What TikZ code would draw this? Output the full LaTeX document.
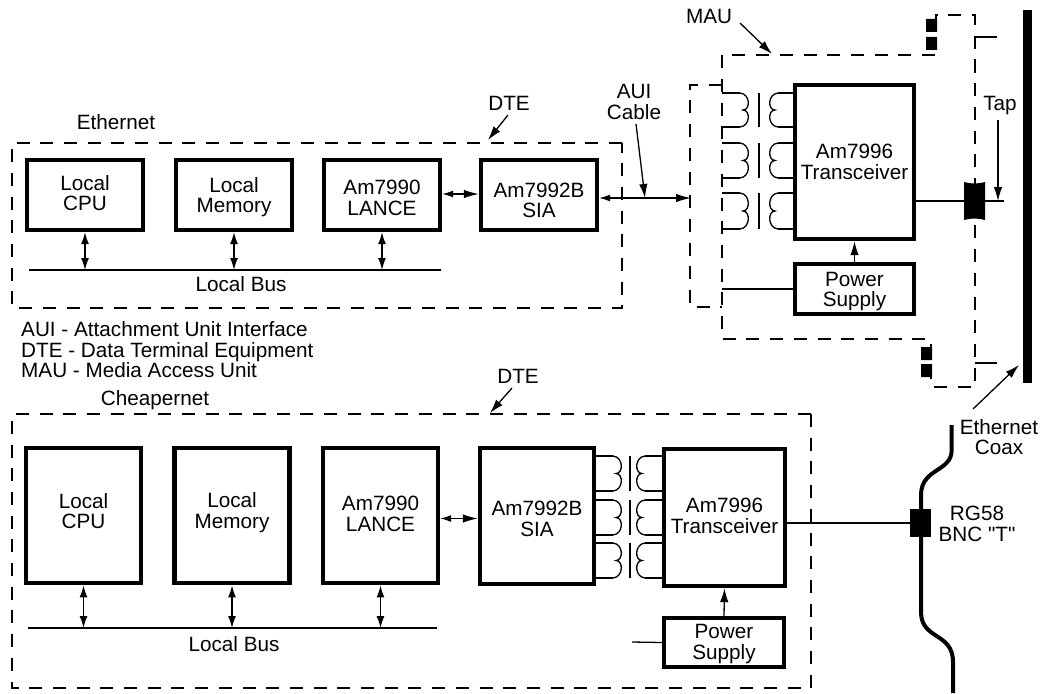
\documentclass[tikz,border=0pt]{standalone}
\usepackage{fontspec}
\setmainfont{Liberation Sans}[Ligatures=TeXOff]
\usetikzlibrary{arrows.meta}
\tikzset{
  chip/.style={draw, line width=4.4pt, align=center, inner sep=0pt},
  txt/.style={align=center, inner sep=0pt},
  wire/.style={line width=1.3pt},
  dashbox/.style={line width=1.3pt, dash pattern=on 13pt off 10.7pt},
  link/.style={line width=1.3pt, {Latex[length=12pt,width=8pt]}-{Latex[length=12pt,width=8pt]}},
  bigl/.style={line width=1.3pt, {Latex[length=11pt,width=7pt]}-{Latex[length=15pt,width=8.5pt]}},
  pointer/.style={line width=1.3pt, -{Latex[length=14pt,width=8.5pt]}},
  every node/.style={font=\fontsize{20.7}{20.6}\selectfont}
}
% struts that move the two text lines inside a box
\newcommand{\lift}[1]{\rule[-#1]{0pt}{#1}}
\newcommand{\drop}[1]{\rule{0pt}{#1}}
% #1 x, #2 top y, #3 side (1 right, -1 left), #4 bump height
\newcommand{\coil}[4]{
  \draw[wire] (#1,#2) .. controls (#1+10.5*#3,#2+1) and (#1+10.5*#3,#2+#4) .. (#1+3*#3,#2+#4)
    .. controls (#1+10.5*#3,#2+#4) and (#1+10.5*#3,#2+2*#4-1) .. (#1,#2+2*#4);
}
\begin{document}
\begin{tikzpicture}[x=1pt,y=-1pt]
  \useasboundingbox (0,0) rectangle (1043,693);
  % Ethernet station
  \draw[dashbox] (622,143) -- (12,143) -- (12,308) -- (622,308) -- cycle;
  \node[chip, minimum width=116pt, minimum height=70pt] (cpuA) at (85,195) {Local\\CPU\lift{4pt}};
  \node[chip, minimum width=116pt, minimum height=70pt] (memA) at (234,195) {\drop{19pt}Local\\Memory};
  \node[chip, minimum width=116pt, minimum height=70pt] (lanceA) at (382,195) {\drop{20pt}Am7990\\LANCE};
  \node[chip, minimum width=116pt, minimum height=70pt] (siaA) at (539,195) {\drop{25pt}Am7992B\\SIA};
  \coordinate (busAl) at (29,270);
  \coordinate (busAr) at (441,270);
  \draw[wire] (busAl) -- (busAr);
  \draw[link] (cpuA.south) -- (cpuA.south |- busAl);
  \draw[link] (memA.south) -- (memA.south |- busAl);
  \draw[link] (lanceA.south) -- (lanceA.south |- busAl);
  \draw[bigl] ([yshift=1pt]lanceA.east) -- ([yshift=1pt]siaA.west);
  \node[txt] (busAt) at (241,284) {Local Bus};
  \node[txt] (ethA) at (116,122) {Ethernet};
  \node[txt] (dteA) at (509,103) {DTE};
  \coordinate (dteAs) at (508,115);
  \coordinate (dteAp) at (488,140);
  \draw[pointer] (dteAs) -- (dteAp);
  \node[txt, align=left, anchor=north west] (legend) at (21,321.5) {AUI - Attachment Unit Interface\\DTE - Data Terminal Equipment\\MAU - Media Access Unit};
  % AUI
  \draw[dashbox] (722,85) -- (690,85) -- (690,307) -- (722,307);
  \coordinate (auiEnd) at (691,198);
  \draw[bigl] (siaA.east |- auiEnd) -- (auiEnd);
  \node[txt] (auiT) at (634,102) {AUI\\Cable};
  \coordinate (auiS) at (636,124);
  \coordinate (auiP) at (645,198);
  \draw[pointer] (auiS) -- (auiP);
  % MAU
  \draw[dashbox] (935,55) -- (722,55) -- (722,339) -- (931,339) -- (931,347);
  \draw[dashbox] (936,50) -- (936,15) -- (975,15) -- (975,387) -- (931,387) -- (931,377);
  \fill (926,19) rectangle (937,32) (926,37) rectangle (937,50);
  \fill (921,347) rectangle (932,360) (921,364) rectangle (932,377);
  \draw[wire] (975,37) -- (997,37);
  \draw[wire] (975,363) -- (997,363);
  \node[txt] (mauT) at (709,16) {MAU};
  \coordinate (mauS) at (740,23);
  \coordinate (mauP) at (772,54);
  \draw[pointer] (mauS) -- (mauP);
  \node[chip, minimum width=119pt, minimum height=154pt] (xcvrA) at (854.5,162) {Am7996\\Transceiver};
  \node[chip, minimum width=119pt, minimum height=50pt] (powerA) at (854.5,289) {\drop{19pt}Power\\Supply};
  \draw[pointer] (powerA.north) -- (xcvrA.south);
  \coordinate (powerAl) at (722,289);
  \draw[wire] (powerA.west) -- (powerAl);
  \foreach \t/\b in {93/127, 143/178, 193/229} {
    \pgfmathsetmacro\h{(\b-\t)/2}
    \draw[wire] (722,\t) -- (740,\t);
    \draw[wire] (722,\b) -- (740,\b);
    \coil{740}{\t}{1}{\h}
    \draw[wire] (759,\t) -- (759,\b);
    \draw[wire] (793,\t) -- (778,\t);
    \draw[wire] (793,\b) -- (778,\b);
    \coil{778}{\t}{-1}{\h}
  }
  % coax and tap
  \fill (964,182) .. controls (971,184) and (978,184) .. (985,182) -- (985,220)
    .. controls (978,218) and (971,218) .. (964,220) -- cycle;
  \coordinate (tapEnd) at (1004,201);
  \draw[wire] (xcvrA.east |- tapEnd) -- (tapEnd);
  \node[txt] (tapT) at (1000,106) {Tap};
  \coordinate (tapS) at (998,120);
  \draw[pointer] (tapS) -- (tapS |- tapEnd);
  \fill (1023,10) rectangle (1032,383);
  \node[txt] (coaxT) at (999,437) {Ethernet\\Coax};
  \coordinate (coaxS) at (973,409);
  \coordinate (coaxP) at (1019,365);
  \draw[pointer] (coaxS) -- (coaxP);
  % Cheapernet station
  \draw[dashbox] (811,414) -- (12,414) -- (12,688) -- (811,688) -- cycle;
  \node[chip, minimum width=115pt, minimum height=135.5pt] (cpuB) at (83.5,515.5) {Local\\CPU\lift{9pt}};
  \node[chip, minimum width=115pt, minimum height=135.5pt] (memB) at (232,515.5) {Local\\Memory\lift{9.5pt}};
  \node[chip, minimum width=115pt, minimum height=135.5pt] (lanceB) at (380.5,515.5) {Am7990\\LANCE\lift{3pt}};
  \node[chip, minimum width=114pt, minimum height=136pt] (siaB) at (537,516) {\drop{20pt}Am7992B\\SIA};
  \coordinate (busBl) at (28,628);
  \coordinate (busBr) at (437,628);
  \draw[wire] (busBl) -- (busBr);
  \draw[link] (cpuB.south) -- (cpuB.south |- busBl);
  \draw[link] (memB.south) -- (memB.south |- busBl);
  \draw[link] (lanceB.south) -- (lanceB.south |- busBl);
  \draw[bigl] ([yshift=-3pt]lanceB.east) -- ([yshift=-3pt]lanceB.east -| siaB.west);
  \node[txt] (busBt) at (234,644) {Local Bus};
  \node[txt] (ethB) at (155,400) {Cheapernet};
  \node[txt] (dteB) at (518,376) {DTE};
  \coordinate (dteBs) at (512,388);
  \coordinate (dteBp) at (490,413);
  \draw[pointer] (dteBs) -- (dteBp);
  \node[chip, minimum width=121pt, minimum height=137pt] (xcvrB) at (724.5,517.5) {Am7996\\Transceiver\lift{4pt}};
  \node[chip, minimum width=120pt, minimum height=49pt] (powerB) at (724,642.5) {\drop{17pt}Power\\Supply};
  \draw[pointer] (powerB.north) -- (xcvrB.south);
  \coordinate (powerBl) at (632,642);
  \draw[wire] (powerB.west) -- (powerBl);
  \foreach \t/\b in {456/491, 500/535, 543/578} {
    \pgfmathsetmacro\h{(\b-\t)/2}
    \draw[wire] (596,\t) -- (613,\t);
    \draw[wire] (596,\b) -- (613,\b);
    \coil{613}{\t}{1}{\h}
    \draw[wire] (630,\t) -- (630,\b);
    \draw[wire] (662,\t) -- (645,\t);
    \draw[wire] (662,\b) -- (645,\b);
    \coil{645}{\t}{-1}{\h}
  }
  % RG58 coax
  \draw[line width=4pt] (951.7,425) -- (951.7,450) .. controls (951.7,472) and (921,468) .. (921,495)
    -- (921,612) .. controls (921,640) and (953,632) .. (953,662) -- (953,693);
  \node[fill=black, inner sep=0pt, minimum width=21pt, minimum height=28pt] (bnc) at (920.5,523) {};
  \draw[wire] (xcvrB.east |- bnc) -- (bnc);
  \node[txt] (bncT) at (977,524) {RG58\\BNC "T"};
\end{tikzpicture}
\end{document}
